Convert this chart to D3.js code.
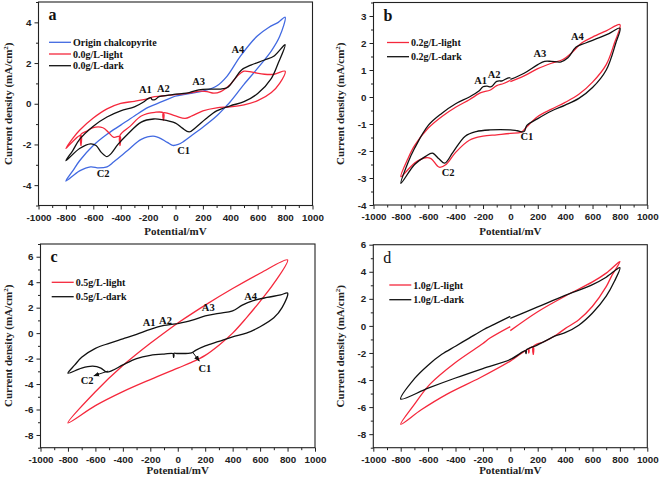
<!DOCTYPE html>
<html><head><meta charset="utf-8">
<script src="https://cdn.jsdelivr.net/npm/d3@7"></script>
<style>body{margin:0;background:#fff}svg{display:block}</style>
</head><body><svg id="chart" width="661" height="477"></svg>
<script>
// ---------- data (potential mV, current density mA/cm2) ----------
const aOrigin = [[0,0.38],[100,0.5],[200,0.62],[300,0.87],[377,1.36],[474,2.34],[597,3.33],[680,3.75],[750,4.0],[800,4.25],
  [760,3.3],[700,2.6],[600,1.75],[500,0.95],[400,0.1],[370,-0.12],[300,-0.6],[200,-1.15],[120,-1.55],[60,-1.85],[20,-2.0],[-20,-2.05],[-60,-1.9],[-150,-1.6],[-250,-1.75],[-350,-2.3],[-450,-2.85],[-500,-3.1],[-560,-3.15],[-620,-3.1],[-700,-3.3],[-800,-3.8],
  [-750,-3.3],[-700,-2.8],[-600,-2.05],[-500,-1.5],[-400,-1.05],[-300,-0.6],[-200,-0.18],[-100,0.1],[0,0.38]];
const aLight = [[0,0.45],[100,0.52],[180,0.62],[230,0.6],[280,0.52],[330,0.6],[400,0.95],[450,1.35],[500,1.6],[560,1.55],[650,1.45],[720,1.45],[800,1.6],
  [760,1.0],[700,0.55],[600,0.15],[500,-0.05],[400,-0.15],[300,-0.2],[200,-0.35],[120,-0.6],[70,-0.72],[0,-0.6],[-88,-0.45],[-88,-0.8],[-88,-0.45],[-150,-0.42],[-250,-0.6],[-330,-1.1],[-405,-1.55],[-405,-2.05],[-405,-1.6],[-450,-1.65],[-490,-1.4],[-530,-1.18],[-600,-1.17],[-650,-1.35],[-690,-1.5],[-690,-2.05],[-690,-1.55],[-750,-1.85],[-800,-2.2],
  [-750,-1.7],[-700,-1.3],[-600,-0.7],[-500,-0.25],[-400,0.02],[-300,0.12],[-200,0.25],[-170,0.33],[-100,0.38],[0,0.45]];
const aDark = [[0,0.47],[100,0.55],[170,0.68],[250,0.72],[330,0.72],[380,0.8],[430,1.2],[480,1.65],[550,1.9],[650,2.15],[720,2.35],[800,2.9],
  [750,2.0],[700,1.25],[600,0.5],[500,0.1],[400,-0.1],[300,-0.35],[220,-0.75],[150,-1.15],[100,-1.38],[50,-1.2],[0,-0.95],[-100,-0.78],[-160,-0.75],[-250,-0.9],[-350,-1.5],[-420,-2.0],[-470,-2.45],[-500,-2.6],[-540,-2.4],[-580,-2.05],[-620,-1.97],[-700,-2.2],[-800,-2.8],
  [-750,-2.3],[-700,-1.75],[-600,-1.1],[-500,-0.65],[-400,-0.35],[-300,-0.15],[-230,0.1],[-200,0.25],[-180,0.3],[-170,0.2],[-150,0.2],[-120,0.35],[-50,0.42],[0,0.47]];

const bLight = [[0,0.57],[100,0.78],[200,1.05],[300,1.25],[380,1.38],[450,1.65],[520,2.0],[600,2.22],[700,2.45],[800,2.68],
  [760,2.0],[700,1.2],[600,0.55],[500,0.1],[400,-0.2],[300,-0.45],[200,-0.72],[120,-1.1],[80,-1.3],[0,-1.35],[-100,-1.4],[-200,-1.45],[-300,-1.6],[-400,-2.05],[-470,-2.5],[-520,-2.6],[-580,-2.28],[-620,-2.25],[-700,-2.45],[-800,-2.95],
  [-750,-2.3],[-700,-1.8],[-600,-1.15],[-500,-0.72],[-400,-0.38],[-300,-0.1],[-220,0.15],[-190,0.2],[-150,0.25],[-100,0.42],[-50,0.5],[0,0.62]];
const bDark = [[0,0.65],[100,0.88],[200,1.2],[250,1.32],[300,1.32],[370,1.3],[420,1.45],[480,1.85],[550,2.0],[650,2.2],[720,2.35],[800,2.55],
  [770,2.0],[700,1.0],[600,0.35],[500,-0.05],[400,-0.3],[300,-0.52],[200,-0.8],[120,-1.05],[100,-1.28],[50,-1.25],[0,-1.22],[-150,-1.22],[-250,-1.28],[-330,-1.45],[-420,-2.05],[-480,-2.45],[-520,-2.3],[-570,-2.08],[-620,-2.2],[-700,-2.5],[-800,-3.2],
  [-750,-2.45],[-700,-1.9],[-600,-1.05],[-500,-0.6],[-400,-0.25],[-300,0.0],[-230,0.22],[-200,0.38],[-170,0.4],[-140,0.38],[-100,0.58],[-60,0.6],[-20,0.7],[0,0.72]];

const cLight = [[0,0.8],[200,2.2],[400,3.5],[600,4.7],[800,5.75],
  [700,3.9],[600,2.5],[500,1.2],[400,0.0],[300,-0.95],[200,-1.75],[100,-2.3],[0,-2.75],[-200,-3.65],[-400,-4.6],[-600,-5.7],[-800,-7.05],
  [-600,-4.6],[-400,-2.55],[-200,-0.8],[0,0.8]];
const cDark = [[0,0.75],[100,1.0],[200,1.35],[300,1.55],[400,1.75],[470,2.2],[550,2.55],[650,2.8],[750,3.0],[800,3.15],
  [760,2.0],[700,1.2],[600,0.5],[500,0.0],[400,-0.3],[300,-0.65],[200,-1.0],[130,-1.35],[100,-1.55],[0,-1.6],[-30,-1.6],[-30,-1.9],[-30,-1.62],[-100,-1.65],[-200,-1.75],[-300,-2.0],[-400,-2.5],[-480,-2.95],[-520,-3.05],[-560,-2.75],[-620,-2.6],[-700,-2.75],[-800,-3.15],
  [-750,-2.5],[-700,-1.9],[-600,-1.2],[-500,-0.8],[-400,-0.45],[-300,-0.1],[-200,0.3],[-100,0.6],[0,0.75]];

const dLight = [[0,-0.35],[200,1.05],[400,2.2],[600,3.25],[700,3.9],[800,4.75],
  [740,3.7],[700,2.9],[600,1.45],[500,0.45],[400,-0.2],[338,-0.65],[250,-1.15],[168,-1.52],[168,-2.1],[168,-1.55],[135,-1.7],[135,-2.0],[135,-1.72],[0,-2.6],[-221,-3.83],[-465,-5.06],[-650,-6.2],[-800,-7.27],
  [-700,-5.8],[-586,-4.3],[-400,-2.7],[-200,-1.3],[-148,-0.9],[0,-0.05]];
const dDark = [[0,0.55],[200,1.4],[400,2.25],[600,3.05],[700,3.6],[800,4.3],
  [760,3.3],[700,2.2],[600,0.95],[500,0.05],[400,-0.5],[338,-0.7],[200,-1.4],[115,-1.8],[115,-2.05],[115,-1.82],[0,-2.48],[-200,-3.15],[-400,-3.85],[-600,-4.6],[-800,-5.4],
  [-700,-3.9],[-600,-2.9],[-500,-2.1],[-400,-1.5],[-300,-0.9],[-200,-0.3],[-100,0.2],[0,0.7]];

const xTicks = [-1000,-800,-600,-400,-200,0,200,400,600,800,1000];
const aYTicks = [-4,-2,0,2,4];
const bYTicks = [-4,-3,-2,-1,0,1,2,3];
const cYTicks = [-8,-6,-4,-2,0,2,4,6];
const dYTicks = [-8,-6,-4,-2,0,2,4,6];

const aLegend = ["Origin chalcopyrite","0.0g/L-light","0.0g/L-dark"];
const bLegend = ["0.2g/L-light","0.2g/L-dark"];
const cLegend = ["0.5g/L-light","0.5g/L-dark"];
const dLegend = ["1.0g/L-light","1.0g/L-dark"];

const aNotes = [["A1",-220,0.7],["A2",-88,0.75],["A3",169,1.11],["A4",455,2.67],["C1",59,-2.28],["C2",-528,-3.43]];
const bNotes = [["A1",-217,0.63],["A2",-119,0.85],["A3",215,1.61],["A4",489,2.25],["C1",121,-1.46],["C2",-455,-2.79]];
const cNotes = [["A1",-208,0.81],["A2",-89,1.0],["A3",222,2.0],["A4",531,2.9],["C1",198,-2.77],["C2",-660,-3.72]];
// arrows in panel c: [from, to] in data units
const cArrows = [[[108,-1.49],[157,-2.2]],[[-507,-2.98],[-611,-3.35]]];

// ---------- drawing ----------
const BLUE = "#4169e1", RED = "#f5283c", BLACK = "#111";
const svg = d3.select("#chart");
svg.append("defs").append("marker").attr("id","arr").attr("viewBox","0 0 10 10").attr("refX",9).attr("refY",5)
  .attr("markerWidth",6).attr("markerHeight",6).attr("orient","auto")
  .append("path").attr("d","M0,1 L10,5 L0,9 Z").attr("fill","#111");

const panels = [
  {letter:"a", x0:38.5, x1:312.5, yT:2, yB:205.5, ydom:[-5,5], yt:aYTicks, ym:1, series:[[aOrigin,BLUE],[aLight,RED],[aDark,BLACK]], legend:aLegend, lx:49, ly:42.3, lgap:11.7, notes:aNotes, arrows:[], ytx:8, tOff:29.5},
  {letter:"b", x0:373.5, x1:647.3, yT:2.5, yB:205, ydom:[-4,3.5], yt:bYTicks, ym:0.5, series:[[bLight,RED],[bDark,BLACK]], legend:bLegend, lx:387, ly:42.5, lgap:14.2, notes:bNotes, arrows:[], ytx:340, tOff:29.5},
  {letter:"c", x0:40.5, x1:315, yT:244, yB:447.7, ydom:[-9,7], yt:cYTicks, ym:1, series:[[cLight,RED],[cDark,BLACK]], legend:cLegend, lx:51.7, ly:282.3, lgap:14.4, notes:cNotes, arrows:cArrows, ytx:8, tOff:26.5},
  {letter:"d", x0:373.3, x1:647.3, yT:244.7, yB:447.7, ydom:[-9,6], yt:dYTicks, ym:1, series:[[dLight,RED],[dDark,BLACK]], legend:dLegend, lx:389.3, ly:285, lgap:14.7, notes:[], arrows:[], ytx:340, tOff:26.5}
];

panels.forEach(p => {
  const x = d3.scaleLinear().domain([-1000,1000]).range([p.x0,p.x1]);
  const y = d3.scaleLinear().domain(p.ydom).range([p.yB,p.yT]);
  const g = svg.append("g");
  const line = d3.line().x(d=>x(d[0])).y(d=>y(d[1])).curve(d3.curveCatmullRom.alpha(0.5));

  p.series.forEach(([data,col]) => {
    g.append("path").attr("d", line(data)).attr("fill","none").attr("stroke",col).attr("stroke-width",1.3).attr("stroke-linejoin","round");
  });

  const xMinor = d3.range(-900,1000,200);
  g.append("g").attr("transform",`translate(0,${p.yB})`)
    .call(d3.axisBottom(x).tickValues(xMinor).tickSize(2.5).tickFormat(""))
    .call(s=>s.select(".domain").remove());
  const yMinor = d3.range(p.ydom[0], p.ydom[1]+1e-9, p.ym).filter(v=>!p.yt.includes(+v.toFixed(3)));
  g.append("g").attr("transform",`translate(${p.x0},0)`)
    .call(d3.axisLeft(y).tickValues(yMinor).tickSize(2.5).tickFormat(""))
    .call(s=>s.select(".domain").remove());

  const ax = g.append("g").attr("transform",`translate(0,${p.yB})`)
    .call(d3.axisBottom(x).tickValues(xTicks).tickSize(4).tickPadding(4.5).tickFormat(d=>String(d)));
  ax.select(".domain").remove();
  ax.selectAll("text").attr("font-family","Liberation Sans, Arial, sans-serif").attr("font-weight","bold").attr("font-size","9.8px").attr("fill","#222");
  const ay = g.append("g").attr("transform",`translate(${p.x0},0)`)
    .call(d3.axisLeft(y).tickValues(p.yt).tickSize(4).tickPadding(3).tickFormat(d=>String(d)));
  ay.select(".domain").remove();
  ay.selectAll("text").attr("font-family","Liberation Sans, Arial, sans-serif").attr("font-weight","bold").attr("font-size","9.8px").attr("fill","#222");
  g.selectAll(".tick line").attr("stroke","#222");

  g.append("rect").attr("x",p.x0).attr("y",p.yT).attr("width",p.x1-p.x0).attr("height",p.yB-p.yT)
    .attr("fill","none").attr("stroke","#222").attr("stroke-width",1.1);

  g.append("text").attr("x",(p.x0+p.x1)/2).attr("y",p.yB+p.tOff).attr("text-anchor","middle")
    .attr("font-family","Liberation Serif, Times New Roman, serif").attr("font-weight","bold").attr("font-size","11px").attr("fill","#222")
    .text("Potential/mV");
  const yt = g.append("text").attr("transform",`translate(${p.ytx+4},${(p.yT+p.yB)/2}) rotate(-90)`).attr("text-anchor","middle")
    .attr("font-family","Liberation Serif, Times New Roman, serif").attr("font-weight","bold").attr("font-size","11px").attr("fill","#222");
  yt.append("tspan").text("Current density (mA/cm");
  yt.append("tspan").attr("dy","-4").attr("font-size","7px").text("2");
  yt.append("tspan").attr("dy","4").text(")");

  g.append("text").attr("x",p.x0+10).attr("y",p.yT+18)
    .attr("font-family","Liberation Serif, Times New Roman, serif").attr("font-weight", p.letter==="d"?"normal":"bold").attr("font-size","16px").attr("fill","#111")
    .text(p.letter);

  p.legend.forEach((name,i) => {
    const yy = p.ly + i*p.lgap;
    g.append("line").attr("x1",p.lx).attr("x2",p.lx+22).attr("y1",yy).attr("y2",yy).attr("stroke",p.series[i][1]).attr("stroke-width",1.3);
    g.append("text").attr("x",p.lx+24).attr("y",yy+3.5)
      .attr("font-family","Liberation Serif, Times New Roman, serif").attr("font-weight","bold").attr("font-size","10px").attr("fill","#111")
      .text(name);
  });

  p.notes.forEach(([t,vx,vy]) => {
    g.append("text").attr("x",x(vx)).attr("y",y(vy)).attr("dy","0.35em").attr("text-anchor","middle")
      .attr("font-family","Liberation Serif, Times New Roman, serif").attr("font-weight","bold").attr("font-size","10.5px").attr("fill","#111")
      .text(t);
  });
  p.arrows.forEach(([a,b]) => {
    g.append("line").attr("x1",x(a[0])).attr("y1",y(a[1])).attr("x2",x(b[0])).attr("y2",y(b[1]))
      .attr("stroke","#111").attr("stroke-width",1).attr("marker-end","url(#arr)");
  });
});
</script></body></html>
